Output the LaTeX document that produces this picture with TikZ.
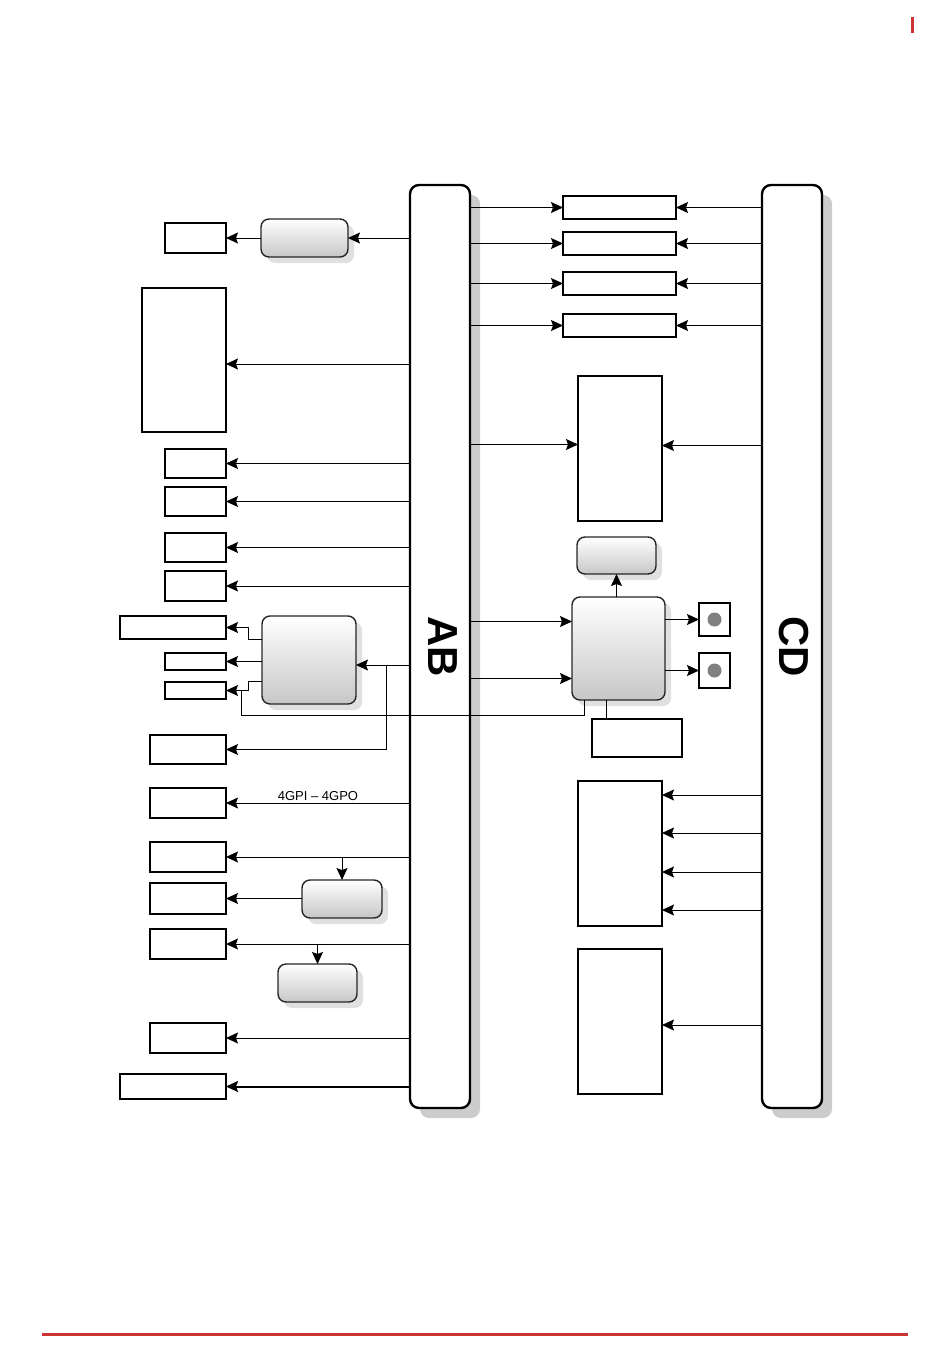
\documentclass[tikz,border=0pt]{standalone}
\usepackage{fontspec}
\setmainfont{Liberation Sans}
\usetikzlibrary{arrows.meta,shadows,calc}
\definecolor{redmark}{RGB}{204,51,51}
\tikzset{
  arr/.style={-{Stealth[length=12pt,width=11pt,inset=2pt]}, line width=1pt},
  plain/.style={draw, line width=1.1pt, fill=white, inner sep=0pt, outer sep=0pt},
  heavy/.style={draw, line width=2pt, fill=white, inner sep=0pt, outer sep=0pt},
  gbox/.style={draw=black!85, line width=1.4pt, rounded corners=8pt, inner sep=0pt, outer sep=0pt,
    top color=white, bottom color=black!22,
    drop shadow={shadow xshift=6pt, shadow yshift=-6pt, fill=black!12, opacity=1}},
  bar/.style={draw, line width=2.4pt, rounded corners=9pt, fill=white, inner sep=0pt, outer sep=0pt,
    minimum width=60pt, minimum height=923pt,
    drop shadow={shadow xshift=10pt, shadow yshift=-10pt, fill=black!20, opacity=1}},
  barlabel/.style={font=\fontsize{42}{42}\selectfont\bfseries, rotate=-90, inner sep=0pt},
  sz/.style 2 args={minimum width=#1pt, minimum height=#2pt},
}
\begin{document}
\begin{tikzpicture}[x=1pt,y=-1pt]
\useasboundingbox (0,0) rectangle (950,1370);
% red decorations
\fill[redmark] (911,17) rectangle (914,33);
\fill[redmark] (42,1333) rectangle (908,1336);

% bars
\node[bar] (ab) at (440,646.5) {};
\node[bar] (cd) at (792,646.5) {};
\node[barlabel] (abl) at (443,646.5) {AB};
\node[barlabel] (cdl) at (793.5,647) {CD};

% left side nodes
\node[plain, sz={61}{30}] (l1) at (195.5,238) {};
\node[gbox, sz={87}{38}] (g1) at (304.5,238) {};
\node[heavy, sz={84}{144}] (l2) at (184,360) {};
\node[plain, sz={61}{29}] (l3) at (195.5,463.5) {};
\node[plain, sz={61}{29}] (l4) at (195.5,501.5) {};
\node[plain, sz={61}{29}] (l5) at (195.5,547.5) {};
\node[plain, sz={61}{30}] (l6) at (195.5,586) {};
\node[plain, sz={106}{23}] (s1) at (173,627.5) {};
\node[plain, sz={61}{17}] (s2) at (195.5,661.5) {};
\node[plain, sz={61}{17}] (s3) at (195.5,690.5) {};
\node[gbox, sz={94}{88}] (g3) at (309,660) {};
\node[heavy, sz={76}{29}] (l7) at (188,749.5) {};
\node[heavy, sz={76}{30}] (l8) at (188,803) {};
\node[heavy, sz={76}{30}] (l9) at (188,857) {};
\node[heavy, sz={76}{31}] (l10) at (188,898.5) {};
\node[heavy, sz={76}{30}] (l11) at (188,944) {};
\node[heavy, sz={76}{30}] (l12) at (188,1038) {};
\node[plain, sz={106}{25}] (l13) at (173,1086.5) {};
\node[gbox, sz={80}{38}] (g4) at (342,899) {};
\node[gbox, sz={79}{38}] (g5) at (317.5,983) {};

% right side nodes
\node[plain, sz={113}{23}] (r1) at (619.5,207.5) {};
\node[plain, sz={113}{23}] (r2) at (619.5,243.5) {};
\node[plain, sz={113}{23}] (r3) at (619.5,283.5) {};
\node[plain, sz={113}{23}] (r4) at (619.5,325.5) {};
\node[heavy, sz={84}{145}] (r5) at (620,448.5) {};
\node[gbox, sz={79}{37}] (g6) at (616.5,555.5) {};
\node[gbox, sz={93}{103}] (g7) at (618.5,648.5) {};
\node[plain, sz={31}{33}] (sq1) at (714.5,619.5) {};
\node[plain, sz={31}{35}] (sq2) at (714.5,670.5) {};
\fill[black!50] (sq1.center) circle (7pt);
\fill[black!50] (sq2.center) circle (7pt);
\node[plain, sz={90}{38}] (r6) at (637,738) {};
\node[heavy, sz={84}{145}] (r7) at (620,853.5) {};
\node[heavy, sz={84}{145}] (r8) at (620,1021.5) {};

% left connectors
\draw[arr] (ab.west |- g1.east) -- (g1.east);
\draw[arr] (g1.west) -- (l1.east);
\draw[arr] (ab.west |- {$(l2.east)+(0,4)$}) -- ($(l2.east)+(0,4)$);
\draw[arr] (ab.west |- l3.east) -- (l3.east);
\draw[arr] (ab.west |- l4.east) -- (l4.east);
\draw[arr] (ab.west |- l5.east) -- (l5.east);
\draw[arr] (ab.west |- l6.east) -- (l6.east);

\coordinate (k) at ($(g3.east)+(0,5)$);
\draw[arr] (ab.west |- k) -- (k);
\draw[arr] ($(k)+(30,0)$) |- (l7.east);
\draw[arr] ($(g3.west)+(0,-21)$) -| ($(s1.east)+(22,0)$) -- (s1.east);
\draw[arr] (g3.west |- s2.east) -- (s2.east);
\draw[arr] ($(g3.west)+(0,21)$) -| ($(s3.east)+(22,0)$) -- (s3.east);
\coordinate (m3) at ($(s3.east)+(15,0)$);
\draw[line width=1pt] ($(g7.south west)+(12,0)$) |- ($(m3)+(0,25)$) -- (m3);

\draw[arr] (ab.west |- l8.east) -- node[above=1pt, font=\fontsize{13}{13}\selectfont, inner sep=1pt] {4GPI – 4GPO} (l8.east);
\draw[arr] (ab.west |- l9.east) -- (l9.east);
\draw[arr] (g4.north |- l9.east) -- (g4.north);
\draw[arr] (g4.west |- l10.east) -- (l10.east);
\draw[arr] (ab.west |- l11.east) -- (l11.east);
\draw[arr] (g5.north |- l11.east) -- (g5.north);
\draw[arr] (ab.west |- l12.east) -- (l12.east);
\draw[arr, line width=2pt] (ab.west |- l13.east) -- (l13.east);

% right connectors
\foreach \r in {r1,r2,r3,r4}{
  \draw[arr] (ab.east |- \r.west) -- (\r.west);
  \draw[arr] (cd.west |- \r.east) -- (\r.east);
}
\draw[arr] (ab.east |- {$(r5.west)+(0,-4)$}) -- ($(r5.west)+(0,-4)$);
\draw[arr] (cd.west |- {$(r5.east)+(0,-3)$}) -- ($(r5.east)+(0,-3)$);
\draw[arr] (ab.east |- {$(g7.west)+(0,-27)$}) -- ($(g7.west)+(0,-27)$);
\draw[arr] (ab.east |- {$(g7.west)+(0,30)$}) -- ($(g7.west)+(0,30)$);
\draw[arr] (g6.south |- g7.north) -- (g6.south);
\draw[arr] (g7.east |- sq1.west) -- (sq1.west);
\draw[arr] (g7.east |- sq2.west) -- (sq2.west);
\coordinate (t) at ($(r6.north west)+(14,0)$);
\draw[line width=1pt] (t) -- (t |- g7.south);
\foreach \o in {-58.5,-20.5,18.5,56.5}{
  \draw[arr] (cd.west |- {$(r7.east)+(0,\o)$}) -- ($(r7.east)+(0,\o)$);
}
\draw[arr] (cd.west |- {$(r8.east)+(0,3.5)$}) -- ($(r8.east)+(0,3.5)$);
\end{tikzpicture}
\end{document}
